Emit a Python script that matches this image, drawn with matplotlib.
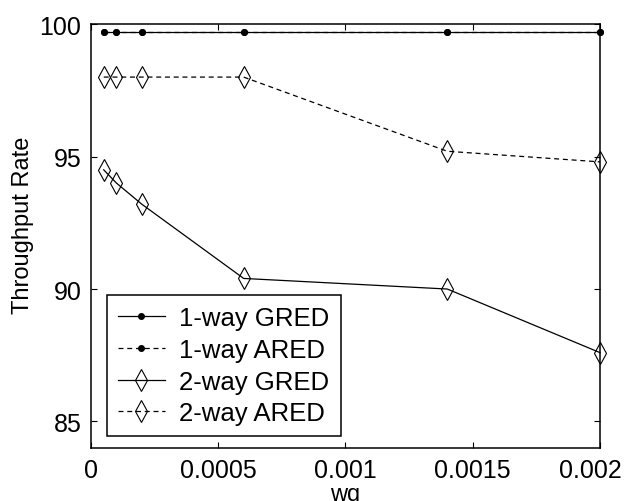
import matplotlib
matplotlib.use("Agg")
import matplotlib.pyplot as plt
import matplotlib.transforms as mtransforms

plt.rcParams['font.family'] = ['Liberation Sans', 'DejaVu Sans']

wq = [0.00005, 0.0001, 0.0002, 0.0006, 0.0014, 0.002]
gred_1way = [99.7, 99.7, 99.7, 99.7, 99.7, 99.7]
ared_1way = [99.7, 99.7, 99.7, 99.7, 99.7, 99.7]
gred_2way = [94.5, 94.0, 93.2, 90.4, 90.0, 87.6]
ared_2way = [98.0, 98.0, 98.0, 98.0, 95.2, 94.8]

xticks = [0, 0.0005, 0.001, 0.0015, 0.002]
xtick_labels = ['0', '0.0005', '0.001', '0.0015', '0.002']
yticks = [85, 90, 95, 100]

fig = plt.figure(figsize=(6.24, 5.02), dpi=100)
ax = fig.add_axes([0.1458, 0.1056, 0.8157, 0.8444])

dash = (0, (4, 3))
ax.plot(wq, gred_1way, '-', color='k', lw=0.9, marker='.', ms=8, label='1-way GRED',
        clip_on=False)
ax.plot(wq, ared_1way, linestyle=dash, color='k', lw=0.9, marker='.', ms=8, label='1-way ARED',
        clip_on=False)
ax.plot(wq, gred_2way, '-', color='k', lw=0.9, marker='d', ms=11, mfc='none', mew=0.8,
        label='2-way GRED', clip_on=False)
ax.plot(wq, ared_2way, linestyle=dash, color='k', lw=0.9, marker='d', ms=11, mfc='none', mew=0.8,
        label='2-way ARED', clip_on=False)

ax.set_xlim(0, 0.002)
ax.set_ylim(84, 100)
ax.set_xticks(xticks)
ax.set_xticklabels(xtick_labels)
ax.set_yticks(yticks)
ax.tick_params(direction='in', top=True, right=True, length=4, width=0.8,
               labelsize=18, pad=7)
for s in ax.spines.values():
    s.set_linewidth(1.1)

# last x label pulled left so it stays inside the figure
last = ax.get_xticklabels()[-1]
last.set_transform(last.get_transform() +
                   mtransforms.ScaledTranslation(-10 / 100, 0, fig.dpi_scale_trans))

ax.set_ylabel('Throughput Rate', fontsize=17, labelpad=4, y=0.528)
ax.set_xlabel('wq', fontsize=17, labelpad=1)

leg = ax.legend(loc='lower left', bbox_to_anchor=(0.031, 0.028), borderaxespad=0,
                fontsize=18.5, frameon=True, fancybox=False,
                edgecolor='k', framealpha=1, handlelength=1.83, handletextpad=0.58,
                labelspacing=0.3, borderpad=0.42)
leg.get_frame().set_linewidth(1.1)

fig.savefig('out.png', dpi=100)
